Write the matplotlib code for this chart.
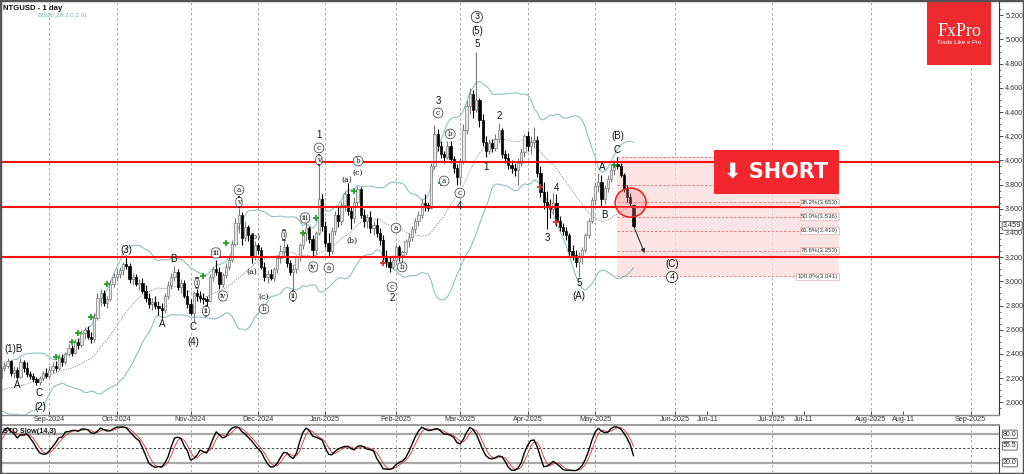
import numpy as np
import pandas as pd
import matplotlib
matplotlib.use("Agg")
import matplotlib.pyplot as plt
import matplotlib.transforms as mtransforms
from matplotlib.patches import Rectangle, Ellipse

plt.rcParams["font.family"] = ["Liberation Sans", "DejaVu Sans"]

symbol_title = "NTGUSD - 1 day"
bb_title = "BB(20,20,2.0,2.0)"
sto_title = "STO Slow(14,3)"

# trading days; the first 20 bars sit left of the visible window (indicator warm-up)
n_pre = 20
holidays = ["2024-12-25", "2025-01-01", "2025-04-18"]
bar_dates = pd.bdate_range("2024-07-15", "2025-05-19")
bar_dates = bar_dates[~bar_dates.isin(pd.to_datetime(holidays))]

opens = [
    2.36, 2.30, 2.20, 2.17, 2.15, 2.12, 2.22, 2.16, 2.14, 2.05, 2.00, 2.05, 2.08, 2.04, 2.02, 1.99, 1.95, 2.01, 2.10, 2.14,
    2.20, 2.28, 2.30, 2.34, 2.24, 2.27, 2.21, 2.33, 2.28, 2.23, 2.22, 2.19, 2.17, 2.20, 2.24,
    2.22, 2.27, 2.30, 2.28, 2.37, 2.33, 2.40, 2.45, 2.41, 2.50, 2.47, 2.57, 2.60, 2.54, 2.52, 2.70, 2.86, 2.90, 2.82, 2.85, 2.98,
    3.04, 3.06, 3.09, 3.14, 3.13, 3.02, 3.04, 2.98, 2.99, 2.92, 2.86, 2.81, 2.83, 2.80, 2.78, 2.76, 2.88, 2.97, 3.04, 3.08, 2.95, 2.99, 2.88,
    2.81, 2.74, 2.90, 2.88, 2.86, 2.85, 2.84, 3.04, 3.10, 3.08, 2.98, 3.05, 3.12, 3.18, 3.31, 3.48, 3.55, 3.36, 3.45, 3.38, 3.20,
    3.30, 3.26, 3.12, 3.04, 3.06, 3.03, 3.10, 3.19, 3.25, 3.28, 3.15, 3.08, 3.10, 3.20, 3.30, 3.40, 3.44, 3.35, 3.26, 3.40, 3.68,
    3.46, 3.32, 3.25, 3.42, 3.55, 3.50, 3.63, 3.72, 3.58, 3.52, 3.66, 3.76, 3.55, 3.50, 3.53, 3.44, 3.47, 3.40, 3.34, 3.20, 3.16, 3.12,
    3.18, 3.28, 3.22, 3.24, 3.33, 3.37, 3.43, 3.50, 3.55, 3.65, 3.63, 3.61, 3.95, 4.22, 4.12, 4.05, 4.03, 4.12, 4.01, 3.94,
    3.86, 3.99, 4.25, 4.45, 4.55, 4.42, 4.50, 4.33, 4.15, 4.08, 4.14, 4.10, 4.18, 4.25, 4.05, 4.02, 3.96, 3.94, 3.92, 3.98, 4.07,
    4.20, 4.12, 4.15, 4.17, 3.90, 3.74, 3.66, 3.62, 3.60, 3.65, 3.50, 3.45, 3.42, 3.38, 3.25, 3.22, 3.16, 3.20, 3.26, 3.38, 3.50,
    3.67, 3.79, 3.82, 3.68, 3.77, 3.85, 3.92, 3.97, 3.95, 3.88, 3.77, 3.70, 3.63,
]
highs = [
    2.40, 2.33, 2.24, 2.21, 2.18, 2.25, 2.26, 2.20, 2.16, 2.08, 2.09, 2.12, 2.10, 2.07, 2.05, 2.02, 2.06, 2.13, 2.18, 2.22,
    2.30, 2.33, 2.37, 2.35, 2.30, 2.29, 2.37, 2.35, 2.33, 2.26, 2.24, 2.21, 2.22, 2.26, 2.28,
    2.30, 2.33, 2.34, 2.40, 2.40, 2.42, 2.48, 2.47, 2.52, 2.53, 2.60, 2.62, 2.63, 2.58, 2.74, 2.90, 2.94, 2.93, 2.88, 3.01, 3.07,
    3.10, 3.12, 3.16, 3.22, 3.15, 3.07, 3.06, 3.02, 3.03, 2.97, 2.90, 2.86, 2.88, 2.84, 2.82, 2.90, 3.00, 3.07, 3.13, 3.10, 3.02, 3.01, 2.93,
    2.85, 2.92, 2.94, 2.92, 2.90, 2.88, 3.06, 3.12, 3.18, 3.12, 3.07, 3.15, 3.20, 3.34, 3.52, 3.61, 3.57, 3.50, 3.47, 3.40, 3.33,
    3.32, 3.28, 3.16, 3.09, 3.10, 3.12, 3.22, 3.30, 3.34, 3.31, 3.18, 3.14, 3.22, 3.32, 3.42, 3.48, 3.46, 3.38, 3.42, 4.02, 3.72,
    3.50, 3.40, 3.45, 3.58, 3.62, 3.66, 3.75, 3.81, 3.62, 3.70, 3.79, 3.78, 3.60, 3.56, 3.58, 3.50, 3.52, 3.44, 3.38, 3.26, 3.20, 3.22,
    3.30, 3.30, 3.26, 3.35, 3.40, 3.46, 3.52, 3.58, 3.68, 3.72, 3.66, 3.98, 4.29, 4.26, 4.16, 4.08, 4.16, 4.16, 4.04, 3.97,
    4.02, 4.30, 4.50, 4.60, 4.58, 4.90, 4.52, 4.38, 4.20, 4.18, 4.18, 4.22, 4.31, 4.27, 4.09, 4.06, 4.00, 3.98, 4.02, 4.10, 4.22,
    4.24, 4.20, 4.28, 4.20, 3.95, 3.82, 3.75, 3.68, 3.73, 3.72, 3.54, 3.48, 3.45, 3.40, 3.30, 3.26, 3.24, 3.28, 3.40, 3.52, 3.70,
    3.82, 3.90, 3.88, 3.80, 3.88, 3.95, 4.00, 4.031, 3.98, 3.90, 3.80, 3.73, 3.64,
]
lows = [
    2.28, 2.18, 2.14, 2.10, 2.08, 2.10, 2.13, 2.10, 2.02, 1.97, 1.98, 2.02, 2.00, 1.98, 1.94, 1.90, 1.93, 1.99, 2.07, 2.10,
    2.18, 2.26, 2.28, 2.22, 2.20, 2.19, 2.20, 2.25, 2.21, 2.19, 2.17, 2.14, 2.14, 2.18, 2.20,
    2.20, 2.24, 2.26, 2.27, 2.30, 2.32, 2.38, 2.38, 2.40, 2.44, 2.46, 2.52, 2.52, 2.49, 2.50, 2.68, 2.80, 2.80, 2.78, 2.84, 2.95,
    3.00, 3.03, 3.05, 3.10, 2.99, 2.97, 2.96, 2.93, 2.90, 2.83, 2.78, 2.76, 2.77, 2.72, 2.70, 2.74, 2.85, 2.94, 3.00, 2.93, 2.90, 2.86, 2.78,
    2.72, 2.66, 2.84, 2.83, 2.81, 2.80, 2.83, 3.00, 3.05, 2.94, 2.95, 3.03, 3.09, 3.16, 3.29, 3.40, 3.30, 3.33, 3.33, 3.15, 3.18,
    3.23, 3.10, 3.00, 2.99, 3.01, 3.00, 3.07, 3.15, 3.20, 3.12, 3.05, 2.93, 3.07, 3.17, 3.27, 3.33, 3.32, 3.20, 3.22, 3.38, 3.42,
    3.28, 3.20, 3.23, 3.38, 3.45, 3.47, 3.58, 3.55, 3.43, 3.48, 3.62, 3.52, 3.45, 3.44, 3.40, 3.38, 3.37, 3.30, 3.16, 3.12, 3.08, 3.10,
    3.14, 3.17, 3.14, 3.22, 3.28, 3.33, 3.40, 3.46, 3.52, 3.58, 3.58, 3.60, 3.93, 4.08, 4.02, 3.98, 4.01, 3.98, 3.90, 3.80,
    3.80, 3.97, 4.22, 4.38, 4.35, 4.40, 4.28, 4.12, 4.03, 4.05, 4.07, 4.08, 4.14, 4.02, 3.98, 3.93, 3.90, 3.87, 3.80, 3.95, 4.03,
    4.08, 4.05, 4.10, 3.86, 3.70, 3.60, 3.43, 3.52, 3.56, 3.46, 3.42, 3.38, 3.34, 3.22, 3.18, 3.12, 3.04, 3.14, 3.24, 3.36, 3.48,
    3.64, 3.74, 3.62, 3.64, 3.74, 3.82, 3.88, 3.93, 3.86, 3.74, 3.66, 3.62, 3.44,
]
closes = [
    2.30, 2.20, 2.17, 2.15, 2.12, 2.22, 2.16, 2.14, 2.05, 2.00, 2.05, 2.08, 2.04, 2.02, 1.99, 1.95, 2.01, 2.10, 2.14, 2.18,
    2.28, 2.30, 2.34, 2.24, 2.27, 2.21, 2.33, 2.28, 2.23, 2.22, 2.19, 2.17, 2.20, 2.24, 2.22,
    2.27, 2.30, 2.28, 2.37, 2.33, 2.40, 2.45, 2.41, 2.50, 2.47, 2.57, 2.60, 2.54, 2.52, 2.70, 2.86, 2.90, 2.82, 2.85, 2.98, 3.04,
    3.06, 3.09, 3.14, 3.13, 3.02, 3.04, 2.98, 2.99, 2.92, 2.86, 2.81, 2.83, 2.80, 2.78, 2.76, 2.88, 2.97, 3.04, 3.08, 2.95, 2.99, 2.88, 2.81,
    2.74, 2.90, 2.88, 2.86, 2.85, 2.84, 3.04, 3.10, 3.08, 2.98, 3.05, 3.12, 3.18, 3.31, 3.48, 3.55, 3.36, 3.45, 3.38, 3.20, 3.30,
    3.26, 3.12, 3.04, 3.06, 3.03, 3.10, 3.19, 3.25, 3.28, 3.15, 3.08, 3.10, 3.20, 3.30, 3.40, 3.44, 3.35, 3.26, 3.40, 3.68, 3.46,
    3.32, 3.25, 3.42, 3.55, 3.50, 3.63, 3.72, 3.58, 3.52, 3.66, 3.76, 3.55, 3.50, 3.53, 3.44, 3.47, 3.40, 3.34, 3.20, 3.16, 3.12, 3.18,
    3.28, 3.22, 3.24, 3.33, 3.37, 3.43, 3.50, 3.55, 3.65, 3.63, 3.61, 3.95, 4.22, 4.12, 4.05, 4.03, 4.12, 4.01, 3.94, 3.86,
    3.99, 4.25, 4.45, 4.55, 4.42, 4.50, 4.33, 4.15, 4.08, 4.14, 4.10, 4.18, 4.25, 4.05, 4.02, 3.96, 3.94, 3.92, 3.98, 4.07, 4.20,
    4.12, 4.15, 4.17, 3.90, 3.74, 3.66, 3.62, 3.60, 3.65, 3.50, 3.45, 3.42, 3.38, 3.25, 3.22, 3.16, 3.20, 3.26, 3.38, 3.50, 3.67,
    3.79, 3.82, 3.68, 3.77, 3.85, 3.92, 3.97, 3.95, 3.88, 3.77, 3.70, 3.65, 3.459,
]

# signal crosses (bar date, price)
green_dates = ["2024-09-04", "2024-09-11", "2024-09-13", "2024-09-19", "2024-09-26", "2024-11-07",
               "2024-11-18", "2024-12-20", "2024-12-27", "2025-01-15", "2025-02-21", "2025-05-09"]
green_prices = [2.375, 2.499, 2.573, 2.706, 2.982, 3.044, 3.317, 3.40, 3.524, 3.743, 3.817, 3.962]
red_dates = ["2025-01-28", "2025-04-07", "2025-04-10", "2025-04-14"]
red_prices = [3.152, 3.78, 3.615, 3.487]

red_levels = [3.99, 3.617, 3.205]
fib_high, fib_low = 4.031, 3.041
fib_pcts = [0.0, 23.6, 38.2, 50.0, 61.8, 78.6, 100.0]
fib_labelled = [38.2, 50.0, 61.8, 78.6, 100.0]
fib_start, fib_end = "2025-05-12", "2025-07-22"
short_start, short_end = "2025-06-13", "2025-07-22"
short_low, short_high = 3.724, 4.087
last_price = 3.459
sto_last = 55.5
sto_levels = [80.0, 20.0]

month_ticks = pd.date_range("2024-09-01", "2025-09-01", freq="MS")
mid_ticks = pd.to_datetime(["2025-06-11", "2025-07-11", "2025-08-11"])

last_bar = bar_dates[-1]
last_pos = len(bar_dates) - 1 - n_pre


def date_pos(d):
    d = pd.Timestamp(d)
    if d <= last_bar:
        return int(np.searchsorted(bar_dates, d)) - n_pre
    return last_pos + (d - last_bar).days


x = np.arange(len(bar_dates)) - n_pre
O = np.array(opens)
H = np.array(highs)
L = np.array(lows)
C = np.array(closes)

c = pd.Series(C)
bb_mid = c.rolling(20).mean()
bb_sd = c.rolling(20).std(ddof=0)
bb_up = bb_mid + 2 * bb_sd
bb_dn = bb_mid - 2 * bb_sd

hh = pd.Series(H).rolling(14).max()
ll = pd.Series(L).rolling(14).min()
fast_k = 100 * (c - ll) / (hh - ll)
slow_k = fast_k.rolling(3).mean()
slow_d = slow_k.rolling(3).mean()

W, Hpx = 1024, 474
fig = plt.figure(figsize=(W / 100, Hpx / 100), dpi=100)
ax = fig.add_axes([0, (Hpx - 415) / Hpx, 999 / W, 414 / Hpx])
ax2 = fig.add_axes([0, 2 / Hpx, 999 / W, 47.5 / Hpx])

xlim = (-0.36, 310.86)
for a in (ax, ax2):
    a.set_xlim(*xlim)
    for m in month_ticks:
        a.axvline(date_pos(m), color="#9a9a9a", lw=0.6, ls=(0, (3, 3)), zorder=0.5)

ax.set_ylim(1.895, 5.318)

# bollinger bands
ax.plot(x, bb_up, color="#8fc1c4", lw=0.8, zorder=1)
ax.plot(x, bb_dn, color="#8fc1c4", lw=0.8, zorder=1)
ax.plot(x, bb_mid, color="#8a8a8a", lw=0.6, ls=(0, (1.5, 1.5)), zorder=1)

# fib zone
fx0, fx1 = date_pos(fib_start), date_pos(fib_end)
ax.add_patch(Rectangle((fx0, fib_low), fx1 - fx0, fib_high - fib_low,
                       facecolor="#f9dede", edgecolor="none", alpha=0.8, zorder=0.8))
for p in fib_pcts:
    lv = fib_high - p / 100 * (fib_high - fib_low)
    ax.plot([fx0, fx1], [lv, lv], color="#e07070", lw=0.6, ls=(0, (3, 2)), zorder=1.2)
    if p in fib_labelled:
        ax.text(fx1 - 0.4, lv, f"{p:.1f}%({lv:.3f})", ha="right", va="center", fontsize=4.4,
                color="#333333", zorder=5,
                bbox=dict(boxstyle="square,pad=0.15", fc="white", ec="#e39a9a", lw=0.4))

# candles
up = C >= O
ax.vlines(x[up], L[up], H[up], color="#7a7a7a", lw=0.8, zorder=2)
ax.vlines(x[~up], L[~up], H[~up], color="black", lw=0.8, zorder=2)
body = np.maximum(np.abs(C - O), 0.008)
ax.bar(x, body, bottom=np.minimum(O, C), width=0.7,
       color=np.where(up, "#e6e6e6", "black"), edgecolor=np.where(up, "#7a7a7a", "black"),
       lw=0.5, zorder=2.1)

ax.plot([date_pos(d) for d in green_dates], green_prices, "+", color="#22a022", ms=4, mew=1.3, zorder=3)
ax.plot([date_pos(d) for d in red_dates], red_prices, "+", color="#c83232", ms=4, mew=1.3, zorder=3)

for lv in red_levels:
    ax.axhline(lv, color="#ff1010", lw=1.5, zorder=4)

# short box
sx0, sx1 = date_pos(short_start), date_pos(short_end)
ax.add_patch(Rectangle((sx0, short_low), sx1 - sx0, short_high - short_low,
                       facecolor="#f2262c", edgecolor="none", zorder=6))
ax.text((sx0 + sx1) / 2, (short_low + short_high) / 2, "\u2b07 SHORT", color="white",
        fontsize=15, fontweight="bold", ha="center", va="center", zorder=7,
        family=["DejaVu Sans"])

# circle and projection arrow
ax.add_patch(Ellipse((196.1, 3.651), 9.66, 0.24, facecolor=(1, 0.55, 0.55, 0.3),
                     edgecolor="#ee1c1c", lw=1.1, zorder=5))
ax.annotate("", xy=(200.8, 3.212), xytext=(197.1, 3.452),
            arrowprops=dict(arrowstyle="-|>", color="#333333", lw=0.8, mutation_scale=6), zorder=5)

# wave labels
big_labels = [
    ("(1)B", 4.0, 2.441), ("A", 4.94, 2.143), ("C", 11.8, 2.077), ("(2)", 12.1, 1.961),
    ("(3)", 38.9, 3.259), ("A", 50.1, 2.647), ("B", 53.8, 3.185), ("C", 59.8, 2.623),
    ("(4)", 59.8, 2.499), ("1", 99.0, 4.21), ("2", 121.8, 2.863), ("3", 136.1, 4.491),
    ("4", 142.9, 3.623), ("5", 148.2, 4.963), ("(5)", 148.2, 5.07), ("1", 151.0, 3.946),
    ("2", 155.1, 4.367), ("3", 170.1, 3.359), ("4", 172.9, 3.772), ("5", 180.0, 2.987),
    ("(A)", 180.0, 2.879), ("A", 187.2, 3.946), ("B", 187.8, 3.549), ("C", 191.9, 4.086),
    ("(B)", 192.2, 4.202), ("(C)", 209.0, 3.144),
]
big_circled = [("3", 148.2, 5.186), ("4", 209.0, 3.036)]
roman_labels = [
    ("i", 61.0, 2.987), ("ii", 63.8, 2.755), ("iii", 66.9, 3.235), ("iv", 69.1, 2.879),
    ("v", 74.1, 3.656), ("i", 88.1, 3.383), ("ii", 90.9, 2.879), ("iii", 94.7, 3.524),
    ("iv", 97.2, 3.119), ("v", 99.0, 4.004),
]
paren_labels = [
    ("(b)", 79.1, 3.367), ("(a)", 78.1, 3.078), ("(c)", 81.9, 2.871),
    ("(a)", 107.7, 3.838), ("(b)", 109.3, 3.334), ("(c)", 111.2, 3.896),
]
small_circled = [
    ("a", 74.1, 3.756), ("b", 81.9, 2.771), ("c", 99.0, 4.103), ("a", 102.1, 3.111),
    ("b", 111.2, 3.995), ("c", 121.8, 2.954), ("a", 123.0, 3.441), ("b", 124.9, 3.119),
    ("c", 136.1, 4.392), ("a", 138.0, 3.830), ("b", 139.9, 4.219), ("c", 142.9, 3.731),
]
for t, lx, ly in big_labels:
    ax.text(lx, ly, t, fontsize=7, ha="center", va="center", color="#111111", zorder=8)
for t, lx, ly in big_circled:
    ax.text(lx, ly, t, fontsize=6.5, ha="center", va="center", color="#111111", zorder=8,
            bbox=dict(boxstyle="circle,pad=0.12", fc="white", ec="#333333", lw=0.6))
for t, lx, ly in roman_labels:
    ax.text(lx, ly, t, fontsize=5.2, ha="center", va="center", color="#111111", zorder=8,
            family=["DejaVu Serif"],
            bbox=dict(boxstyle="round,pad=0.15,rounding_size=0.55", fc="white", ec="#333333", lw=0.5))
for t, lx, ly in paren_labels:
    ax.text(lx, ly, t, fontsize=5.6, ha="center", va="center", color="#111111", zorder=8,
            family=["DejaVu Serif"])
for t, lx, ly in small_circled:
    ax.text(lx, ly, t, fontsize=5.2, ha="center", va="center", color="#111111", zorder=8,
            family=["DejaVu Serif"],
            bbox=dict(boxstyle="circle,pad=0.12", fc="white", ec="#333333", lw=0.5))

# axes styling (main)
ax.yaxis.tick_right()
ax.set_yticks(np.arange(2.0, 5.21, 0.2))
ax.set_yticks(np.arange(1.95, 5.3, 0.05), minor=True)
ax.yaxis.set_major_formatter(matplotlib.ticker.FormatStrFormatter("%.3f"))
ax.tick_params(axis="y", which="major", labelsize=5.2, length=3, width=0.6, pad=1.5,
               colors="#333333", direction="out")
ax.tick_params(axis="y", which="minor", length=1.5, width=0.5, colors="#333333")
xt = [date_pos(d) for d in month_ticks] + [date_pos(d) for d in mid_ticks]
xl = [d.strftime("%b-%Y") for d in month_ticks] + [d.strftime("%b-%d") for d in mid_ticks]
ax.set_xticks(xt)
ax.set_xticklabels(xl)
ax.tick_params(axis="x", labelsize=5.2, length=3, width=0.6, pad=1, colors="#333333", direction="in")
for s in ("top", "left"):
    ax.spines[s].set_visible(False)
ax.spines["right"].set_color("#333333")
ax.spines["right"].set_linewidth(0.8)
ax.spines["bottom"].set_color("#8a8a8a")
ax.spines["bottom"].set_linewidth(1.0)

blend = mtransforms.blended_transform_factory(ax.transAxes, ax.transData)
ax.text(1.004, last_price, f"{last_price:.3f}", transform=blend, fontsize=5.2, va="center",
        ha="left", color="#222222",
        bbox=dict(boxstyle="round,pad=0.12,rounding_size=0.2", fc="white", ec="#555555", lw=0.6))

# stochastic panel
ax2.set_ylim(0.35, 100.7)
for lv in sto_levels:
    ax2.axhline(lv, color="#a8a8a8", lw=1.6, zorder=1)
ax2.axhline(50, color="#444444", lw=0.7, ls=(0, (2.5, 2)), zorder=1)
ax2.plot(x, slow_d, color="#d03030", lw=0.6, zorder=2)
ax2.plot(x, slow_k, color="black", lw=1.0, zorder=3)
ax2.set_xticks([])
ax2.set_yticks([])
for s in ("left", "bottom"):
    ax2.spines[s].set_visible(False)
ax2.spines["top"].set_color("#9a9a9a")
ax2.spines["top"].set_linewidth(1.4)
ax2.spines["right"].set_color("#333333")
ax2.spines["right"].set_linewidth(0.8)
ax2.text(0.003, 0.86, sto_title, transform=ax2.transAxes, fontsize=5.2, fontweight="bold",
         va="center", ha="left", color="#111111", zorder=5)
blend2 = mtransforms.blended_transform_factory(ax2.transAxes, ax2.transData)
for v in sto_levels + [sto_last]:
    ax2.text(1.004, v, f"{v:.1f}", transform=blend2, fontsize=5.0, va="center", ha="left",
             color="#222222",
             bbox=dict(boxstyle="round,pad=0.1,rounding_size=0.2", fc="white", ec="#555555", lw=0.6))

# titles
fig.text(3 / W, 1 - 8 / Hpx, symbol_title, fontsize=5.6, fontweight="bold", ha="left",
         va="center", color="#111111")
fig.text(37 / W, 1 - 16 / Hpx, bb_title, fontsize=4.5, ha="left", va="center", color="#7ab3b7")

# logo
fig.patches.append(Rectangle((927 / W, 1 - 65 / Hpx), 64 / W, 65 / Hpx, transform=fig.transFigure,
                             facecolor="#ee2a2e", edgecolor="none", zorder=5))
fig.text(959 / W, 1 - 31 / Hpx, "FxPro", fontsize=13, color="white", ha="center", va="center",
         family=["Liberation Serif", "DejaVu Serif"], zorder=6)
fig.text(959 / W, 1 - 43 / Hpx, "Trade Like a Pro", fontsize=4.3, color="white", ha="center",
         va="center", zorder=6)

# outer frame
fig.patches.append(Rectangle((0, 0), 1, 1, transform=fig.transFigure, fill=False,
                             edgecolor="#555555", lw=2.5, zorder=10))

fig.savefig("out.png", dpi=100)
